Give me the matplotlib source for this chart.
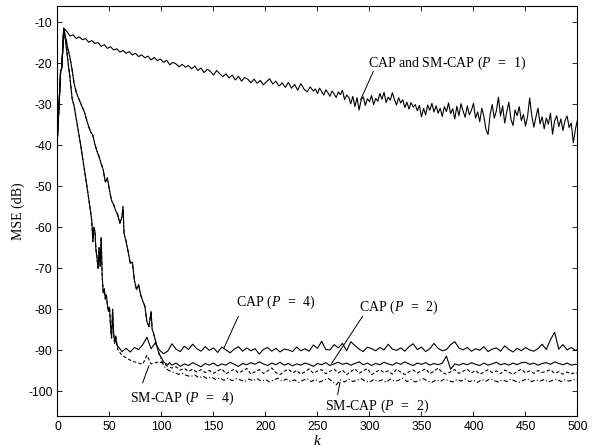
import matplotlib
matplotlib.use('Agg')
import matplotlib.pyplot as plt

plt.rcParams['font.family'] = ['Liberation Sans', 'DejaVu Sans']
plt.rcParams['mathtext.fontset'] = 'custom'
plt.rcParams['mathtext.rm'] = 'Liberation Serif'
plt.rcParams['mathtext.it'] = 'Liberation Serif:italic'
plt.rcParams['axes.unicode_minus'] = False

# ---------------- data ----------------
k_start = [0, 1, 2, 3, 4, 5, 6]
mse_start = [-38.0, -33.0, -27.5, -22.0, -21.3, -17.0, -11.5]

# CAP and SM-CAP (P = 1)
k_p1_mid = list(range(9, 247, 3))
mse_p1_mid = [
    -12.3, -13.4, -13.1, -14.0, -13.6, -14.3, -14.0, -14.9, -14.5, -15.2,
    -15.0, -15.9, -15.5, -16.4, -16.0, -16.8, -16.5, -17.3, -16.9, -17.6,
    -17.2, -18.0, -17.6, -18.4, -18.0, -18.7, -18.3, -19.2, -18.6, -19.4,
    -19.0, -19.8, -19.3, -20.4, -19.8, -20.2, -20.9, -20.3, -21.0, -20.6,
    -21.4, -20.7, -21.8, -21.2, -22.3, -21.5, -22.0, -22.9, -21.8, -22.6,
    -23.3, -22.6, -23.6, -22.9, -24.1, -23.2, -24.4, -23.5, -23.9, -24.8,
    -23.9, -24.9, -24.2, -25.3, -24.5, -23.8, -25.1, -24.4, -25.6, -24.8,
    -25.9, -24.7, -26.1, -25.2, -26.6, -25.0, -26.3, -27.0, -25.8, -26.8,
]
k_p1_late = list(range(248, 501, 2))
mse_p1_late = [
    -26.3, -27.4, -26.1, -26.9, -27.8, -26.5, -27.2, -28.1, -26.8, -27.5,
    -28.4, -27.0, -27.7, -26.6, -28.9, -27.8, -28.3, -29.9, -28.1, -30.6,
    -28.4, -31.4, -29.0, -28.2, -30.3, -28.7, -29.4, -27.9, -30.1, -28.6,
    -29.3, -27.4, -28.8, -27.1, -29.6, -28.3, -29.0, -27.2, -28.9, -30.2,
    -28.4, -29.7, -28.9, -30.8, -29.5, -31.2, -29.6, -30.7, -30.1, -31.6,
    -30.3, -33.1, -31.0, -32.6, -30.2, -31.5, -29.8, -31.9, -30.4, -32.2,
    -31.0, -33.0, -30.6, -31.8, -29.7, -32.3, -31.1, -33.6, -30.5, -32.8,
    -29.9, -31.7, -33.2, -30.4, -32.6, -31.5, -29.8, -33.4, -31.9, -34.3,
    -31.0, -33.0, -36.2, -37.4, -32.5, -30.1, -33.4, -31.6, -28.3, -32.9,
    -30.4, -34.6, -31.8, -29.5, -33.7, -35.2, -31.4, -32.8, -30.6, -34.0,
    -32.5, -35.3, -33.0, -28.5, -32.7, -35.6, -33.2, -31.0, -34.8, -33.1,
    -36.0, -33.4, -34.9, -32.2, -37.3, -34.1, -32.8, -35.5, -33.6, -36.4,
    -34.0, -32.9, -35.7, -34.6, -39.4, -36.1, -33.8,
]

# CAP (P = 4): transient and steady state
k_p4_tr = [8, 10, 12, 14, 16, 18, 20, 22, 24, 26, 28, 30, 32,
           33, 34, 35, 36, 37, 38, 39, 40, 41, 42, 43, 44, 45, 46,
           47, 48, 49, 50, 51, 52, 53, 54, 55, 56, 57, 58, 60]
mse_p4_tr = [-15.0, -19.5, -23.5, -28.5, -30.5, -33.5, -36.5, -39.5, -42.8,
             -46.0, -49.5, -53.0, -56.5,
             -58.5, -63.5, -60.0, -61.0, -65.5, -67.5, -70.0, -65.0, -69.5,
             -62.5, -72.0, -76.0, -75.0, -77.5, -76.5, -79.0, -80.5, -79.5,
             -84.0, -87.0, -80.0, -86.0, -88.3, -86.5, -88.7, -89.0, -89.6]
k_cap4_ss = list(range(62, 499, 4)) + [500]
mse_cap4_ss = [
    -90.3, -89.5, -90.4, -89.3, -89.8, -88.6, -86.8, -89.6, -88.2, -89.9,
    -90.8, -90.2, -88.4, -89.7, -90.3, -89.0, -89.8, -88.5, -89.6, -90.2,
    -89.1, -90.0, -89.4, -90.5, -89.2, -89.9, -90.6, -89.7, -89.1, -90.2,
    -89.4, -90.1, -89.6, -90.9, -89.8, -89.3, -90.2, -89.5, -90.4, -89.7,
    -89.9, -90.3, -89.2, -90.1, -89.6, -90.2, -88.7, -89.5, -87.8, -89.8,
    -89.9, -88.6, -89.4, -88.3, -90.1, -87.9, -88.8, -89.7, -90.3, -89.2,
    -89.6, -90.1, -89.3, -89.9, -88.5, -89.7, -90.0, -89.4, -90.2, -89.1,
    -88.4, -89.8, -89.2, -90.3, -89.6, -88.3, -89.5, -90.1, -89.8, -88.6,
    -87.9, -89.4, -89.9, -89.3, -90.2, -89.6, -90.0, -89.1, -90.3, -89.7,
    -89.4, -90.2, -88.9, -89.8, -90.4, -89.5, -90.1, -89.3, -89.9, -90.2,
    -89.6, -88.5, -89.8, -87.4, -85.6, -89.7, -88.6, -89.9, -89.3, -90.0,
    -89.8,
]

# CAP (P = 2): transient and steady state
k_p2_tr = [8, 10, 12, 14, 16, 18, 20, 22, 24, 26, 28, 30, 32, 34, 36, 38,
           40, 42, 44, 46, 48, 50, 52, 54, 56, 58, 60, 62,
           63, 64, 66, 68, 70, 72, 74, 76, 78, 80, 82, 84, 86, 88, 90,
           91, 92, 94, 96, 98, 100, 102, 104, 106, 108]
mse_p2_tr = [-14.0, -16.5, -18.6, -21.5, -25.0, -27.0, -28.4, -29.6, -30.8,
             -32.0, -33.8, -35.5, -36.8, -37.6, -39.8, -41.5, -42.8, -44.5,
             -46.0, -49.0, -48.0, -51.0, -53.5, -54.5, -56.0, -57.0, -59.0,
             -57.5,
             -55.0, -61.5, -63.5, -66.0, -68.8, -68.5, -73.0, -75.2, -74.0,
             -76.5, -78.0, -79.2, -83.0, -84.2, -80.5,
             -84.8, -85.5, -87.5, -89.4, -91.0, -91.8, -92.8, -93.2, -93.5,
             -93.0]
k_cap2_ss = list(range(110, 499, 4)) + [500]
mse_cap2_ss = [
    -93.6, -93.1, -93.9, -93.3, -93.7, -93.0, -93.5, -94.0, -93.2, -93.6,
    -93.1, -93.8, -93.3, -93.6, -92.9, -93.4, -93.9, -93.2, -93.5, -93.0,
    -93.4, -92.8, -93.3, -93.7, -93.1, -93.5, -92.9, -93.6, -93.2, -93.8,
    -93.3, -93.6, -93.1, -93.4, -93.9, -93.2, -93.5, -93.0, -93.7, -93.3,
    -92.9, -93.4, -93.1, -93.6, -93.2, -92.8, -93.5, -93.1, -93.7, -93.2,
    -93.5, -92.9, -93.3, -93.6, -93.0, -93.4, -92.8, -93.3, -93.7, -93.1,
    -93.4, -93.0, -93.6, -93.2, -93.5, -93.1, -91.4, -94.6, -93.3, -93.6,
    -93.2, -93.5, -93.0, -93.4, -93.7, -93.1, -93.6, -93.3, -92.9, -93.5,
    -93.2, -93.6, -93.1, -93.5, -93.0, -92.9, -93.4, -93.1, -93.6, -93.2,
    -93.0, -93.4, -92.8, -93.2, -93.5, -93.1, -93.6, -93.4,
    -93.5,
]

# SM-CAP (P = 4): shares CAP (P = 4) transient up to k = 56
k_sm4_ss = list(range(58, 499, 4)) + [500]
mse_sm4_ss = [
    -89.8, -91.2, -91.8, -92.4, -92.8, -93.1, -93.4, -91.2, -93.3, -93.0,
    -92.8, -93.2, -93.9, -94.3, -94.0, -94.8, -94.4, -95.1, -94.6, -95.3,
    -94.7, -95.4, -94.9, -95.6, -95.0, -94.5, -95.7, -95.1, -94.6, -95.5,
    -95.0, -94.4, -95.8, -95.2, -94.7, -95.6, -95.0, -94.3, -95.4, -95.9,
    -95.1, -94.6, -95.5, -94.9, -95.8, -95.2, -94.5, -95.6, -95.0, -94.7,
    -95.7, -95.1, -94.6, -95.5, -94.8, -95.9, -95.2, -94.5, -95.6, -95.0,
    -94.4, -95.9, -95.3, -94.7, -95.4, -95.0, -95.8, -94.6, -95.3, -95.9,
    -95.2, -94.8, -95.5, -95.0, -94.5, -95.7, -95.1, -94.3, -95.4, -95.8,
    -95.2, -94.7, -95.6, -95.1, -94.6, -95.5, -94.9, -95.8, -95.3, -94.7,
    -95.4, -95.0, -95.7, -94.8, -95.3, -95.9, -95.1, -94.6, -95.5, -95.0,
    -95.6, -94.9, -95.4, -95.1, -94.7, -95.6, -95.2, -95.8, -95.3, -95.7,
    -95.4,
    -95.6,
]

# SM-CAP (P = 2): shares CAP (P = 2) transient up to k = 96
k_sm2_ss = [98, 100, 102, 104] + list(range(108, 497, 4)) + [500]
mse_sm2_ss = [
    -91.2, -92.4, -93.6, -94.4,
    -95.0, -95.4, -95.8, -95.6, -96.1, -96.4, -96.0, -96.7, -96.3, -96.9,
    -96.5, -97.1, -96.7, -97.3, -96.8, -97.4, -96.9, -97.2, -97.6, -97.0,
    -97.4, -96.9, -97.5, -97.1, -97.7, -97.2, -96.8, -97.5, -97.0, -97.6,
    -97.2, -97.8, -97.3, -96.9, -97.6, -97.1, -97.7, -97.3, -96.8, -97.5,
    -98.4, -97.2, -97.7, -97.0, -97.6, -97.3, -96.9, -97.5, -97.8, -97.1,
    -97.6, -97.2, -97.8, -97.0, -97.5, -97.3, -96.8, -97.6, -97.1, -97.7,
    -97.3, -96.9, -97.5, -97.8, -97.2, -97.6, -97.0, -97.4, -97.7, -97.1,
    -97.5, -97.0, -97.6, -97.3, -97.8, -97.1, -97.5, -96.9, -97.4, -97.7,
    -97.2, -97.6, -97.0, -97.5, -97.8, -97.3, -96.9, -97.6, -97.2, -97.5,
    -97.1, -97.7, -97.3, -97.0, -97.6, -97.2, -97.5, -97.1,
    -97.4,
]

labels = [r'CAP and SM-CAP ($P\;\;=\;\;1$)', r'CAP ($P\;\;=\;\;4$)',
          r'CAP ($P\;\;=\;\;2$)', r'SM-CAP ($P\;\;=\;\;4$)',
          r'SM-CAP ($P\;\;=\;\;2$)']

# ---------------- assemble series ----------------
k_cap1 = k_start + k_p1_mid + k_p1_late
m_cap1 = mse_start + mse_p1_mid + mse_p1_late
k_cap4 = k_start + k_p4_tr + k_cap4_ss
m_cap4 = mse_start + mse_p4_tr + mse_cap4_ss
k_cap2 = k_start + k_p2_tr + k_cap2_ss
m_cap2 = mse_start + mse_p2_tr + mse_cap2_ss
tr4 = [(k, v) for k, v in zip(k_p4_tr, mse_p4_tr) if k <= 56]
k_sm4 = k_start + [k for k, _ in tr4] + k_sm4_ss
m_sm4 = mse_start + [v for _, v in tr4] + mse_sm4_ss
tr2 = [(k, v) for k, v in zip(k_p2_tr, mse_p2_tr) if k <= 96]
k_sm2 = k_start + [k for k, _ in tr2] + k_sm2_ss
m_sm2 = mse_start + [v for _, v in tr2] + mse_sm2_ss

# ---------------- figure ----------------
fig = plt.figure(figsize=(5.92, 4.48), dpi=100)
ax = fig.add_axes([0.0971, 0.0714, 0.8784, 0.9159])

lw = 0.8
ax.plot(k_sm2, m_sm2, color='black', lw=lw, linestyle=(0, (4, 2, 1, 2)))
ax.plot(k_sm4, m_sm4, color='black', lw=lw, linestyle=(0, (3, 2)))
ax.plot(k_cap2, m_cap2, color='black', lw=lw)
ax.plot(k_cap4, m_cap4, color='black', lw=lw)
ax.plot(k_cap1, m_cap1, color='black', lw=lw)

ax.set_xlim(0, 500)
ax.set_ylim(-106, -6)
ax.set_xticks(range(0, 501, 50))
ax.set_yticks(range(-100, -9, 10))
ax.tick_params(direction='in', top=True, right=True, length=3.5, width=0.6,
               labelsize=8.7, pad=3.5)
for s in ax.spines.values():
    s.set_linewidth(0.8)

serif = ['Liberation Serif', 'DejaVu Serif']
ax.set_ylabel('MSE (dB)', family=serif, fontsize=10)
ax.yaxis.set_label_coords(-0.063, 0.5)
ax.set_xlabel('$k$', fontsize=11)
ax.xaxis.set_label_coords(0.5, -0.045)

# annotation layout: text centre, pointer start, pointer tip (data coords)
text_pos = [(374.5, -20.0), (209.6, -78.4), (328.4, -79.4),
            (119.4, -101.6), (307.7, -103.7)]
ptr_start = [(303.7, -22.0), (173.9, -81.7), (293.4, -81.7),
             (81.9, -97.9), (269.4, -100.8)]
ptr_tip = [(291.5, -28.9), (160.1, -89.4), (263.6, -93.2),
           (88.0, -93.7), (271.6, -97.8)]
for lab, tp, ps, pt in zip(labels, text_pos, ptr_start, ptr_tip):
    ax.text(tp[0], tp[1], lab, ha='center', va='center', fontsize=10,
            family=serif)
    ax.annotate('', xy=pt, xytext=ps,
                arrowprops=dict(arrowstyle='-', lw=0.7, color='black',
                                shrinkA=0, shrinkB=0))

fig.savefig('out.png', dpi=100)
